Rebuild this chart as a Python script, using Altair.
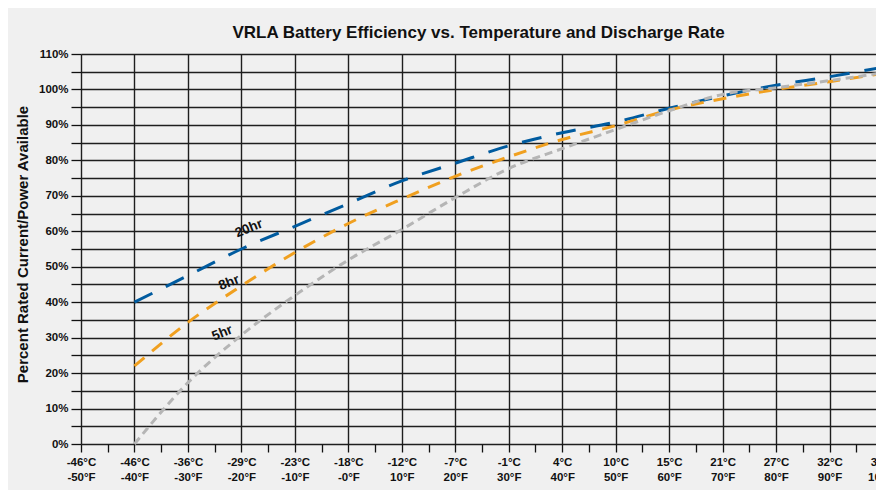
import altair as alt
import pandas as pd

# ---- data ----
temps_f = [-40, -30, -20, -10, 0, 10, 20, 30, 40, 50, 60, 70, 80, 90, 100]
eff_20hr = [40, 47.5, 55, 61.4, 67.8, 74.2, 79.2, 84.1, 87.8, 90.8, 94.7, 98.2, 101.2, 103.6, 106.3]
eff_8hr = [22, 34.3, 44.6, 54, 62.2, 69.1, 75.5, 81, 85.9, 89.8, 94.2, 97.4, 100, 102.2, 104.5]
eff_5hr = [0, 17.3, 30.7, 41.9, 51.9, 60.5, 69.5, 77.7, 83.3, 88.7, 94, 98.6, 100.5, 102.5, 104.7]

c_labels = ["-46°C", "-46°C", "-36°C", "-29°C", "-23°C", "-18°C", "-12°C", "-7°C",
            "-1°C", "4°C", "10°C", "15°C", "21°C", "27°C", "32°C", "38°C"]
f_labels = ["-50°F", "-40°F", "-30°F", "-20°F", "-10°F", "-0°F", "10°F", "20°F",
            "30°F", "40°F", "50°F", "60°F", "70°F", "80°F", "90°F", "100°F"]

series_names = ["20hr", "8hr", "5hr"]
series_colors = ["#005b9f", "#f0a020", "#b5b5b5"]

label_text = ["20hr", "8hr", "5hr"]
label_x = [-18.6, -22.3, -23.6]
label_y = [60.8, 45.5, 31.3]

FONT = "Liberation Sans, Arial, sans-serif"

rows = []
for name, vals in zip(series_names, [eff_20hr, eff_8hr, eff_5hr]):
    for t, v in zip(temps_f, vals):
        rows.append({"temp": t, "eff": v, "series": name})
df = pd.DataFrame(rows)
lab_df = pd.DataFrame({"temp": label_x, "eff": label_y, "text": label_text})

pairs = ",".join("['%s','%s']" % (c, f) for c, f in zip(c_labels, f_labels))
x_label_expr = "datum.value % 10 === 0 ? [" + pairs + "][round((datum.value + 50) / 10)] : ''"

x_values = list(range(-50, 105, 5))
y_values = list(range(0, 115, 5))

# plot spans 795 px of visible width; the scale runs on to 802 px (right part cut off, as in the reference)
x_scale = alt.Scale(domain=[-50, 100], nice=False, zero=False, range=[0, 802])
y_scale = alt.Scale(domain=[0, 110], nice=False)

x_axis = alt.Axis(
    values=x_values, title=None, labelExpr=x_label_expr, labelOverlap=False,
    labelFlush=False, labelBound=False, tickSize=8, tickColor="#111", tickWidth=1.3,
    labelPadding=4, labelLineHeight=15, labelFont=FONT, labelFontSize=11.5,
    labelFontWeight="bold", labelColor="#111", domain=False,
    grid=True, gridColor="#1e1e1e", gridWidth=1.4,
    gridOpacity={"condition": {"test": "datum.value % 10 === 0", "value": 1}, "value": 0},
)
y_axis = alt.Axis(
    values=y_values, title="Percent Rated Current/Power Available",
    labelExpr="datum.value % 10 === 0 ? datum.value + '%' : ''", labelOverlap=False,
    tickSize=10, tickColor="#111", tickWidth=1.3, labelPadding=3, labelFont=FONT,
    labelFontSize=11.5, labelFontWeight="bold", labelColor="#111", domain=False,
    grid=True, gridColor="#1e1e1e", gridWidth=1.4,
    titleFont=FONT, titleFontSize=15, titleFontWeight="bold", titleColor="#111",
    titlePadding=8, titleY=190,
)

dashes = {"20hr": [20, 15], "8hr": [13, 10], "5hr": [8, 5]}

layers = []
for name, color in zip(series_names, series_colors):
    layers.append(
        alt.Chart(df[df["series"] == name]).mark_line(
            color=color, strokeWidth=3, strokeDash=dashes[name], interpolate="monotone"
        ).encode(
            x=alt.X("temp:Q", scale=x_scale, axis=x_axis),
            y=alt.Y("eff:Q", scale=y_scale, axis=y_axis),
        )
    )

labels = alt.Chart(lab_df).mark_text(
    angle=338, font=FONT, fontSize=13.5, fontWeight="bold", color="#111"
).encode(
    x=alt.X("temp:Q", scale=x_scale, axis=x_axis),
    y=alt.Y("eff:Q", scale=y_scale, axis=y_axis),
    text="text:N",
)

chart = alt.layer(*layers, labels).properties(
    width=795,
    height=390,
    title=alt.TitleParams(
        "VRLA Battery Efficiency vs. Temperature and Discharge Rate",
        font=FONT, fontSize=17, fontWeight="bold", color="#111", offset=6, anchor="middle",
    ),
    background="#f0f0f0",
    padding={"left": 73, "top": 46, "right": 0, "bottom": 46},
    autosize=alt.AutoSizeParams(type="none"),
).configure_view(stroke=None)

chart.save("out.html", embed_options={"renderer": "svg", "actions": False})
